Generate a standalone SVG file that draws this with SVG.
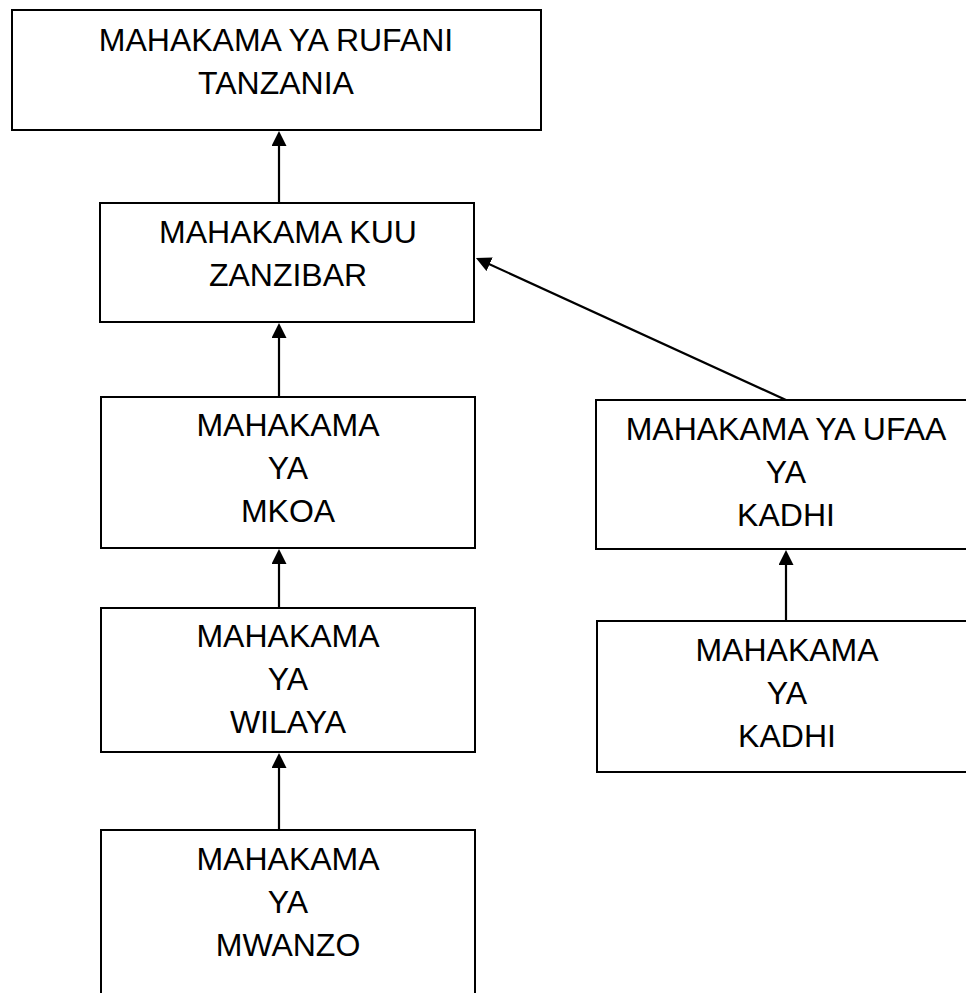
<svg xmlns="http://www.w3.org/2000/svg" width="966" height="993" viewBox="0 0 966 993">
  <style>
    .box { fill: #ffffff; stroke: #000000; stroke-width: 2; }
    .lbl { font-family: "Liberation Sans", Arial, sans-serif; font-size: 32px; fill: #000000; text-anchor: middle; }
    .conn { stroke: #000000; stroke-width: 2.2; fill: none; marker-end: url(#arrow); }
  </style>
  <defs>
    <marker id="arrow" markerUnits="userSpaceOnUse" markerWidth="15" markerHeight="15" viewBox="0 0 15 15" refX="11" refY="7.5" orient="auto">
      <path d="M0,0 L15,7.5 L0,15 z" fill="#000000"/>
    </marker>
  </defs>
  <rect width="966" height="993" fill="#ffffff"/>

  <g id="rufani">
    <rect class="box" x="12" y="10" width="529" height="120"/>
    <text class="lbl" x="276" y="51">MAHAKAMA YA RUFANI</text>
    <text class="lbl" x="276" y="94">TANZANIA</text>
  </g>

  <g id="kuu">
    <rect class="box" x="100" y="203" width="374" height="119"/>
    <text class="lbl" x="288" y="243">MAHAKAMA KUU</text>
    <text class="lbl" x="288" y="286">ZANZIBAR</text>
  </g>

  <g id="mkoa">
    <rect class="box" x="101" y="397" width="374" height="151"/>
    <text class="lbl" x="288" y="436">MAHAKAMA</text>
    <text class="lbl" x="288" y="479">YA</text>
    <text class="lbl" x="288" y="522">MKOA</text>
  </g>

  <g id="wilaya">
    <rect class="box" x="101" y="608" width="374" height="144"/>
    <text class="lbl" x="288" y="647">MAHAKAMA</text>
    <text class="lbl" x="288" y="690">YA</text>
    <text class="lbl" x="288" y="733">WILAYA</text>
  </g>

  <g id="mwanzo">
    <rect class="box" x="101" y="830" width="374" height="200"/>
    <text class="lbl" x="288" y="870">MAHAKAMA</text>
    <text class="lbl" x="288" y="913">YA</text>
    <text class="lbl" x="288" y="956">MWANZO</text>
  </g>

  <g id="ufaa">
    <rect class="box" x="596" y="400" width="380" height="149"/>
    <text class="lbl" x="786" y="440">MAHAKAMA YA UFAA</text>
    <text class="lbl" x="786" y="483">YA</text>
    <text class="lbl" x="786" y="526">KADHI</text>
  </g>

  <g id="kadhi">
    <rect class="box" x="597" y="621" width="380" height="151"/>
    <text class="lbl" x="787" y="661">MAHAKAMA</text>
    <text class="lbl" x="787" y="704">YA</text>
    <text class="lbl" x="787" y="747">KADHI</text>
  </g>

  <g id="connectors">
    <line class="conn" x1="279" y1="203" x2="279" y2="135"/>
    <line class="conn" x1="279" y1="397" x2="279" y2="327"/>
    <line class="conn" x1="279" y1="608" x2="279" y2="553"/>
    <line class="conn" x1="279" y1="830" x2="279" y2="757"/>
    <line class="conn" x1="786" y1="621" x2="786" y2="554"/>
    <line class="conn" x1="786" y1="400" x2="479.6" y2="259.7"/>
  </g>
</svg>
